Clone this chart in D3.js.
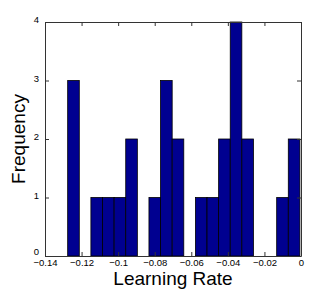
<!DOCTYPE html>
<html><head><meta charset="utf-8">
<script src="https://cdn.jsdelivr.net/npm/d3@7"></script>
<style>body{margin:0;background:#fff}svg{display:block}</style>
</head><body>
<script>
const binStart = -0.1276;
const binEnd = -0.0006;
const counts = [3,0,1,1,1,2,0,1,3,2,0,1,1,2,4,2,0,0,1,2];
const xTicks = [-0.14,-0.12,-0.1,-0.08,-0.06,-0.04,-0.02,0];
const yTicks = [0,1,2,3,4];
const xLabel = "Learning Rate";
const yLabel = "Frequency";

const W=332,H=291;
const m={l:45,r:31,t:22,b:35};
const svg=d3.select("body").append("svg").attr("width",W).attr("height",H);
const x=d3.scaleLinear().domain([-0.14,0]).range([m.l,W-m.r]);
const y=d3.scaleLinear().domain([0,4]).range([H-m.b,m.t]);
const bw=(binEnd-binStart)/counts.length;
const bins=counts.map((c,i)=>({x0:binStart+i*bw,x1:binStart+(i+1)*bw,c}));

svg.append("g").selectAll("rect").data(bins.filter(d=>d.c>0)).join("rect")
 .attr("x",d=>x(d.x0)).attr("width",d=>x(d.x1)-x(d.x0))
 .attr("y",d=>y(d.c)).attr("height",d=>y(0)-y(d.c))
 .attr("fill","#000090").attr("stroke","#000").attr("stroke-width",0.8);

const ac="#333";
const fs="9.5px";
const ff="'Liberation Sans', Arial, sans-serif";
const gb=svg.append("g").attr("transform",`translate(0,${y(0)})`)
 .call(d3.axisBottom(x).tickValues(xTicks).tickSizeInner(-4).tickSizeOuter(0).tickPadding(3)
 .tickFormat(d=>d===0?"0":d3.format("")(d).replace("-","\u2212")));
const gt=svg.append("g").attr("transform",`translate(0,${y(4)})`)
 .call(d3.axisTop(x).tickValues(xTicks).tickSizeInner(-4).tickSizeOuter(0).tickFormat(""));
const gl=svg.append("g").attr("transform",`translate(${x(-0.14)},0)`)
 .call(d3.axisLeft(y).tickValues(yTicks).tickSizeInner(-4).tickSizeOuter(0).tickPadding(6).tickFormat(d3.format("d")));
const gr=svg.append("g").attr("transform",`translate(${x(0)},0)`)
 .call(d3.axisRight(y).tickValues(yTicks).tickSizeInner(-4).tickSizeOuter(0).tickFormat(""));
[gb,gt,gl,gr].forEach(g=>{
 g.selectAll("path,line").attr("stroke",ac);
 g.selectAll("text").attr("fill","#000").style("font-size",fs).style("font-family",ff);
});
gl.selectAll(".tick text").attr("dy",d=>d===0?"-0.15em":"0.1em");

svg.append("text").attr("x",(x(-0.14)+x(0))/2).attr("y",285).attr("text-anchor","middle")
 .style("font-family",ff).style("font-size","19px").text(xLabel);
svg.append("text").attr("transform",`translate(25,${(y(0)+y(4))/2}) rotate(-90)`).attr("text-anchor","middle")
 .style("font-family",ff).style("font-size","19px").text(yLabel);
</script>
</body></html>
